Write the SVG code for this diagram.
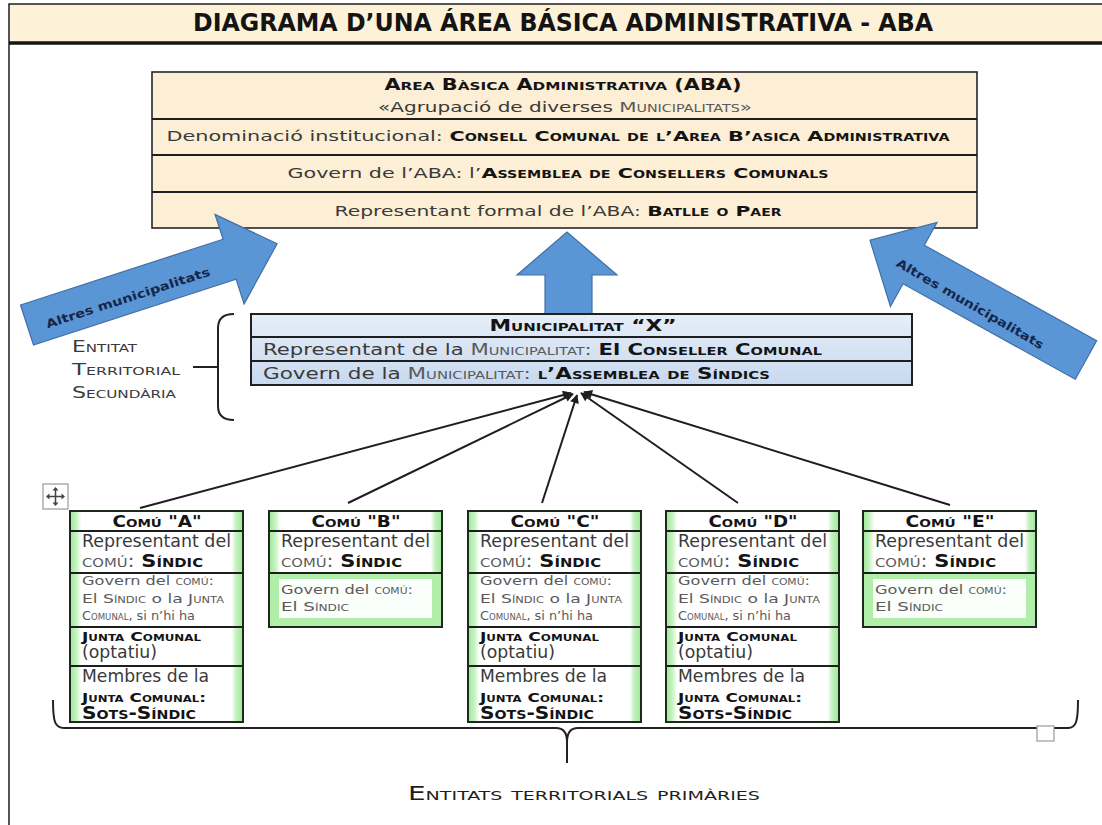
<svg xmlns="http://www.w3.org/2000/svg" width="1102" height="825" viewBox="0 0 1102 825">
  <defs>
    <style>
      .t{font-family:"DejaVu Sans",Verdana,"Noto Sans",sans-serif;fill:#3a3a3a}
      .b{font-weight:bold;fill:#141414}
      .sc{font-variant:small-caps}
      .g{fill:#5a5a5a}
      .cond{font-family:"DejaVu Sans Condensed","Liberation Sans Narrow","Liberation Sans",sans-serif;font-stretch:condensed}
      .frame{fill:none;stroke:#1e1e1e;stroke-width:1.5}
      .aba{fill:#fcefd5;stroke:#262626;stroke-width:1.6}
      .muni{fill:url(#muniFill);stroke:#202020;stroke-width:2}
      .rule{stroke:#1e1e1e;stroke-width:2}
      .cbox{fill:none;stroke:#1b2a1b;stroke-width:2}
      .blk{fill:#5a96d6;stroke:#416fa6;stroke-width:1.2}
      .blkTxt{font-family:"DejaVu Sans",Verdana,sans-serif;font-weight:bold;font-size:12px;fill:#15264a}
      .conn{stroke:#1e1e1e;stroke-width:2;fill:none}
      .brace{stroke:#222;stroke-width:2;fill:none}
    </style>
    <linearGradient id="muniFill" x1="0" y1="0" x2="0" y2="1">
      <stop offset="0" stop-color="#e6eef8"/>
      <stop offset="1" stop-color="#c8d9ef"/>
    </linearGradient>
    <linearGradient id="cellGreen" x1="0" y1="0" x2="1" y2="0">
      <stop offset="0" stop-color="#9fe89a"/>
      <stop offset="0.035" stop-color="#c2f2bd"/>
      <stop offset="0.065" stop-color="#ffffff"/>
      <stop offset="0.935" stop-color="#ffffff"/>
      <stop offset="0.96" stop-color="#c2f2bd"/>
      <stop offset="1" stop-color="#9fe89a"/>
    </linearGradient>
    <marker id="ah" viewBox="0 0 10 10" refX="9" refY="5" markerWidth="12" markerHeight="9" markerUnits="userSpaceOnUse" orient="auto">
      <path d="M0,0 L10,5 L0,10 z" fill="#1e1e1e"/>
    </marker>

    <!-- body of a commune with optional board (five rows) -->
    <g id="comuFull">
      <rect width="173" height="211" fill="url(#cellGreen)"/>
      <path class="rule" d="M0,20H173M0,62H173M0,116H173M0,155H173"/>
      <rect class="cbox" width="173" height="211"/>
      <text class="t" font-size="17" x="12" y="36" textLength="149" lengthAdjust="spacingAndGlyphs">Representant del</text>
      <text class="t" font-size="17" x="12" y="56" textLength="121" lengthAdjust="spacingAndGlyphs"><tspan class="sc g">comú: </tspan><tspan class="b sc">Síndic</tspan></text>
      <text class="t g" font-size="12" x="12" y="74" textLength="132" lengthAdjust="spacingAndGlyphs">Govern del <tspan class="sc">comú:</tspan></text>
      <text class="t g" font-size="12" x="12" y="92" textLength="142" lengthAdjust="spacingAndGlyphs">El <tspan class="sc">Síndic</tspan> o la <tspan class="sc">Junta</tspan></text>
      <text class="t g" font-size="12" x="12" y="109" textLength="113" lengthAdjust="spacingAndGlyphs"><tspan class="sc">Comunal</tspan>, si n’hi ha</text>
      <text class="t b sc" font-size="13" x="12" y="130" textLength="119" lengthAdjust="spacingAndGlyphs">Junta Comunal</text>
      <text class="t" font-size="17" x="12" y="147" textLength="75" lengthAdjust="spacingAndGlyphs">(optatiu)</text>
      <text class="t" font-size="17" x="12" y="171" textLength="127" lengthAdjust="spacingAndGlyphs">Membres de la</text>
      <text class="t b sc" font-size="13" x="12" y="191" textLength="124" lengthAdjust="spacingAndGlyphs">Junta Comunal:</text>
      <text class="t b sc" font-size="17" x="12" y="208" textLength="114" lengthAdjust="spacingAndGlyphs">Sots-Síndic</text>
    </g>

    <!-- body of a commune governed by the síndic alone (three rows) -->
    <g id="comuShort">
      <rect width="173" height="116" fill="url(#cellGreen)"/>
      <rect x="0" y="62" width="173" height="54" fill="#b0eeaa"/>
      <rect x="10" y="68" width="153" height="39" fill="#fbfffb"/>
      <path class="rule" d="M0,20H173M0,62H173"/>
      <rect class="cbox" width="173" height="116"/>
      <text class="t" font-size="17" x="12" y="36" textLength="149" lengthAdjust="spacingAndGlyphs">Representant del</text>
      <text class="t" font-size="17" x="12" y="56" textLength="121" lengthAdjust="spacingAndGlyphs"><tspan class="sc g">comú: </tspan><tspan class="b sc">Síndic</tspan></text>
      <text class="t g" font-size="12" x="12" y="83" textLength="132" lengthAdjust="spacingAndGlyphs">Govern del <tspan class="sc">comú:</tspan></text>
      <text class="t g" font-size="12" x="12" y="100" textLength="68" lengthAdjust="spacingAndGlyphs">El <tspan class="sc">Síndic</tspan></text>
    </g>
  </defs>

  <rect width="1102" height="825" fill="#ffffff"/>

  <!-- page frame and title band -->
  <g id="title">
    <rect x="9" y="4" width="1100" height="38" fill="#fdf1d8"/>
    <path class="frame" d="M1102,4H9V825"/>
    <line x1="9" y1="43" x2="1102" y2="43" stroke="#151515" stroke-width="3.5"/>
    <text class="cond" x="563" y="31" font-size="24" font-weight="bold" fill="#141414" text-anchor="middle" textLength="740" lengthAdjust="spacingAndGlyphs">DIAGRAMA D’UNA ÁREA BÁSICA ADMINISTRATIVA - ABA</text>
  </g>

  <!-- Àrea Bàsica Administrativa -->
  <g id="aba">
    <rect class="aba" x="152" y="72" width="825" height="156"/>
    <path class="rule" stroke-width="1.6" d="M152,119H977M152,155H977M152,192H977"/>
    <text class="t b sc" font-size="15" x="563" y="90" text-anchor="middle" textLength="357" lengthAdjust="spacingAndGlyphs">Area Bàsica Administrativa (ABA)</text>
    <text class="t" font-size="14" x="565" y="112" text-anchor="middle" textLength="374" lengthAdjust="spacingAndGlyphs">«Agrupació de diverses <tspan class="sc g">Municipalitats»</tspan></text>
    <text class="t" font-size="14.5" x="558" y="141" text-anchor="middle" textLength="783" lengthAdjust="spacingAndGlyphs">Denominació institucional: <tspan class="b sc">Consell Comunal de l’Area B’asica Administrativa</tspan></text>
    <text class="t" font-size="14.5" x="558" y="178" text-anchor="middle" textLength="541" lengthAdjust="spacingAndGlyphs">Govern de l’ABA: l’<tspan class="b sc">Assemblea de Consellers Comunals</tspan></text>
    <text class="t" font-size="14.5" x="558" y="216" text-anchor="middle" textLength="447" lengthAdjust="spacingAndGlyphs">Representant formal de l’ABA: <tspan class="b sc">Batlle o Paer</tspan></text>
  </g>

  <!-- block arrows into the ABA -->
  <g id="arrow-centre">
    <polygon class="blk" points="545,314 545,275 517,275 567,232 617,275 592,275 592,314"/>
  </g>
  <g id="arrow-left">
    <polygon class="blk" transform="translate(27,325) rotate(-18)" points="0,-21 213,-21 213,-47 263,0 213,47 213,21 0,21"/>
    <text class="blkTxt" transform="translate(128,298) rotate(-18)" text-anchor="middle" dominant-baseline="central" textLength="172" lengthAdjust="spacingAndGlyphs">Altres  municipalitats</text>
  </g>
  <g id="arrow-right">
    <polygon class="blk" transform="translate(1086,360) rotate(-151)" points="0,-22 197,-22 197,-48 247,0 197,48 197,22 0,22"/>
    <text class="blkTxt" transform="translate(970,304) rotate(30)" text-anchor="middle" dominant-baseline="central" textLength="168" lengthAdjust="spacingAndGlyphs">Altres  municipalitats</text>
  </g>

  <!-- secondary territorial entity -->
  <g id="municipalitat">
    <rect class="muni" x="251" y="314" width="661" height="71"/>
    <path class="rule" d="M251,337H912M251,361H912"/>
    <text class="t b sc" font-size="16" x="583" y="331" text-anchor="middle" textLength="187" lengthAdjust="spacingAndGlyphs">Municipalitat “X”</text>
    <text class="t" font-size="16" x="263" y="355" textLength="559" lengthAdjust="spacingAndGlyphs">Representant de la <tspan class="sc g">Municipalitat: </tspan><tspan class="b">El </tspan><tspan class="b sc">Conseller Comunal</tspan></text>
    <text class="t" font-size="16" x="263" y="379" textLength="507" lengthAdjust="spacingAndGlyphs">Govern de la <tspan class="sc g">Municipalitat: </tspan><tspan class="b sc">l’Assemblea de Síndics</tspan></text>
  </g>

  <g id="label-secundaria">
    <path class="brace" d="M234,314 Q218,314 218,328 L218,406 Q218,420 234,420"/>
    <line class="brace" x1="193" y1="367" x2="218" y2="367"/>
    <text class="t sc" font-size="16" x="72" y="352" fill="#444" textLength="65" lengthAdjust="spacingAndGlyphs">Entitat</text>
    <text class="t sc" font-size="16" x="72" y="375" fill="#444" textLength="108" lengthAdjust="spacingAndGlyphs">Territorial</text>
    <text class="t sc" font-size="16" x="72" y="398" fill="#444" textLength="104" lengthAdjust="spacingAndGlyphs">Secundària</text>
  </g>

  <!-- connectors: each commune to its municipality -->
  <g id="connectors">
    <line class="conn" x1="140" y1="508" x2="571" y2="393" marker-end="url(#ah)"/>
    <line class="conn" x1="348" y1="503" x2="573" y2="394" marker-end="url(#ah)"/>
    <line class="conn" x1="542" y1="503" x2="577" y2="395" marker-end="url(#ah)"/>
    <line class="conn" x1="738" y1="503" x2="581" y2="393" marker-end="url(#ah)"/>
    <line class="conn" x1="950" y1="505" x2="584" y2="392" marker-end="url(#ah)"/>
  </g>

  <!-- table move handle -->
  <g id="move-handle">
    <rect x="43" y="484" width="25" height="25" fill="#fff" stroke="#9a9a9a" stroke-width="1.2"/>
    <path d="M55.5,488.5V504.5M47.5,496.5H63.5" stroke="#444" stroke-width="1.5"/>
    <path d="M55.5,487 l-3,3.5h6z M55.5,506 l-3,-3.5h6z M46,496.5 l3.5,-3v6z M65,496.5 l-3.5,-3v6z" fill="#444"/>
  </g>

  <!-- primary territorial entities -->
  <g id="comu-a" transform="translate(70,511)">
    <use href="#comuFull"/>
    <text class="t b sc" font-size="15" x="87" y="16" text-anchor="middle" textLength="89" lengthAdjust="spacingAndGlyphs">Comú "A"</text>
  </g>
  <g id="comu-b" transform="translate(269,511)">
    <use href="#comuShort"/>
    <text class="t b sc" font-size="15" x="87" y="16" text-anchor="middle" textLength="89" lengthAdjust="spacingAndGlyphs">Comú "B"</text>
  </g>
  <g id="comu-c" transform="translate(468,511)">
    <use href="#comuFull"/>
    <text class="t b sc" font-size="15" x="87" y="16" text-anchor="middle" textLength="89" lengthAdjust="spacingAndGlyphs">Comú "C"</text>
  </g>
  <g id="comu-d" transform="translate(666,511)">
    <use href="#comuFull"/>
    <text class="t b sc" font-size="15" x="87" y="16" text-anchor="middle" textLength="89" lengthAdjust="spacingAndGlyphs">Comú "D"</text>
  </g>
  <g id="comu-e" transform="translate(863,511)">
    <use href="#comuShort"/>
    <text class="t b sc" font-size="15" x="87" y="16" text-anchor="middle" textLength="89" lengthAdjust="spacingAndGlyphs">Comú "E"</text>
  </g>

  <!-- brace grouping the communes -->
  <g id="label-primaries">
    <path class="brace" d="M53,700 C53,722 55,728 64,728 L556,728 C563,728 567,732 567,742 L567,763 M567,742 C567,732 571,728 578,728 L1068,728 C1076,728 1078,722 1078,700"/>
    <rect x="1037" y="726" width="17" height="15" fill="#fff" stroke="#9a9a9a" stroke-width="1.2"/>
    <text class="cond sc" x="584" y="800" font-size="19" fill="#1e1e1e" text-anchor="middle" textLength="352" lengthAdjust="spacingAndGlyphs">Entitats territorials primàries</text>
  </g>
</svg>
